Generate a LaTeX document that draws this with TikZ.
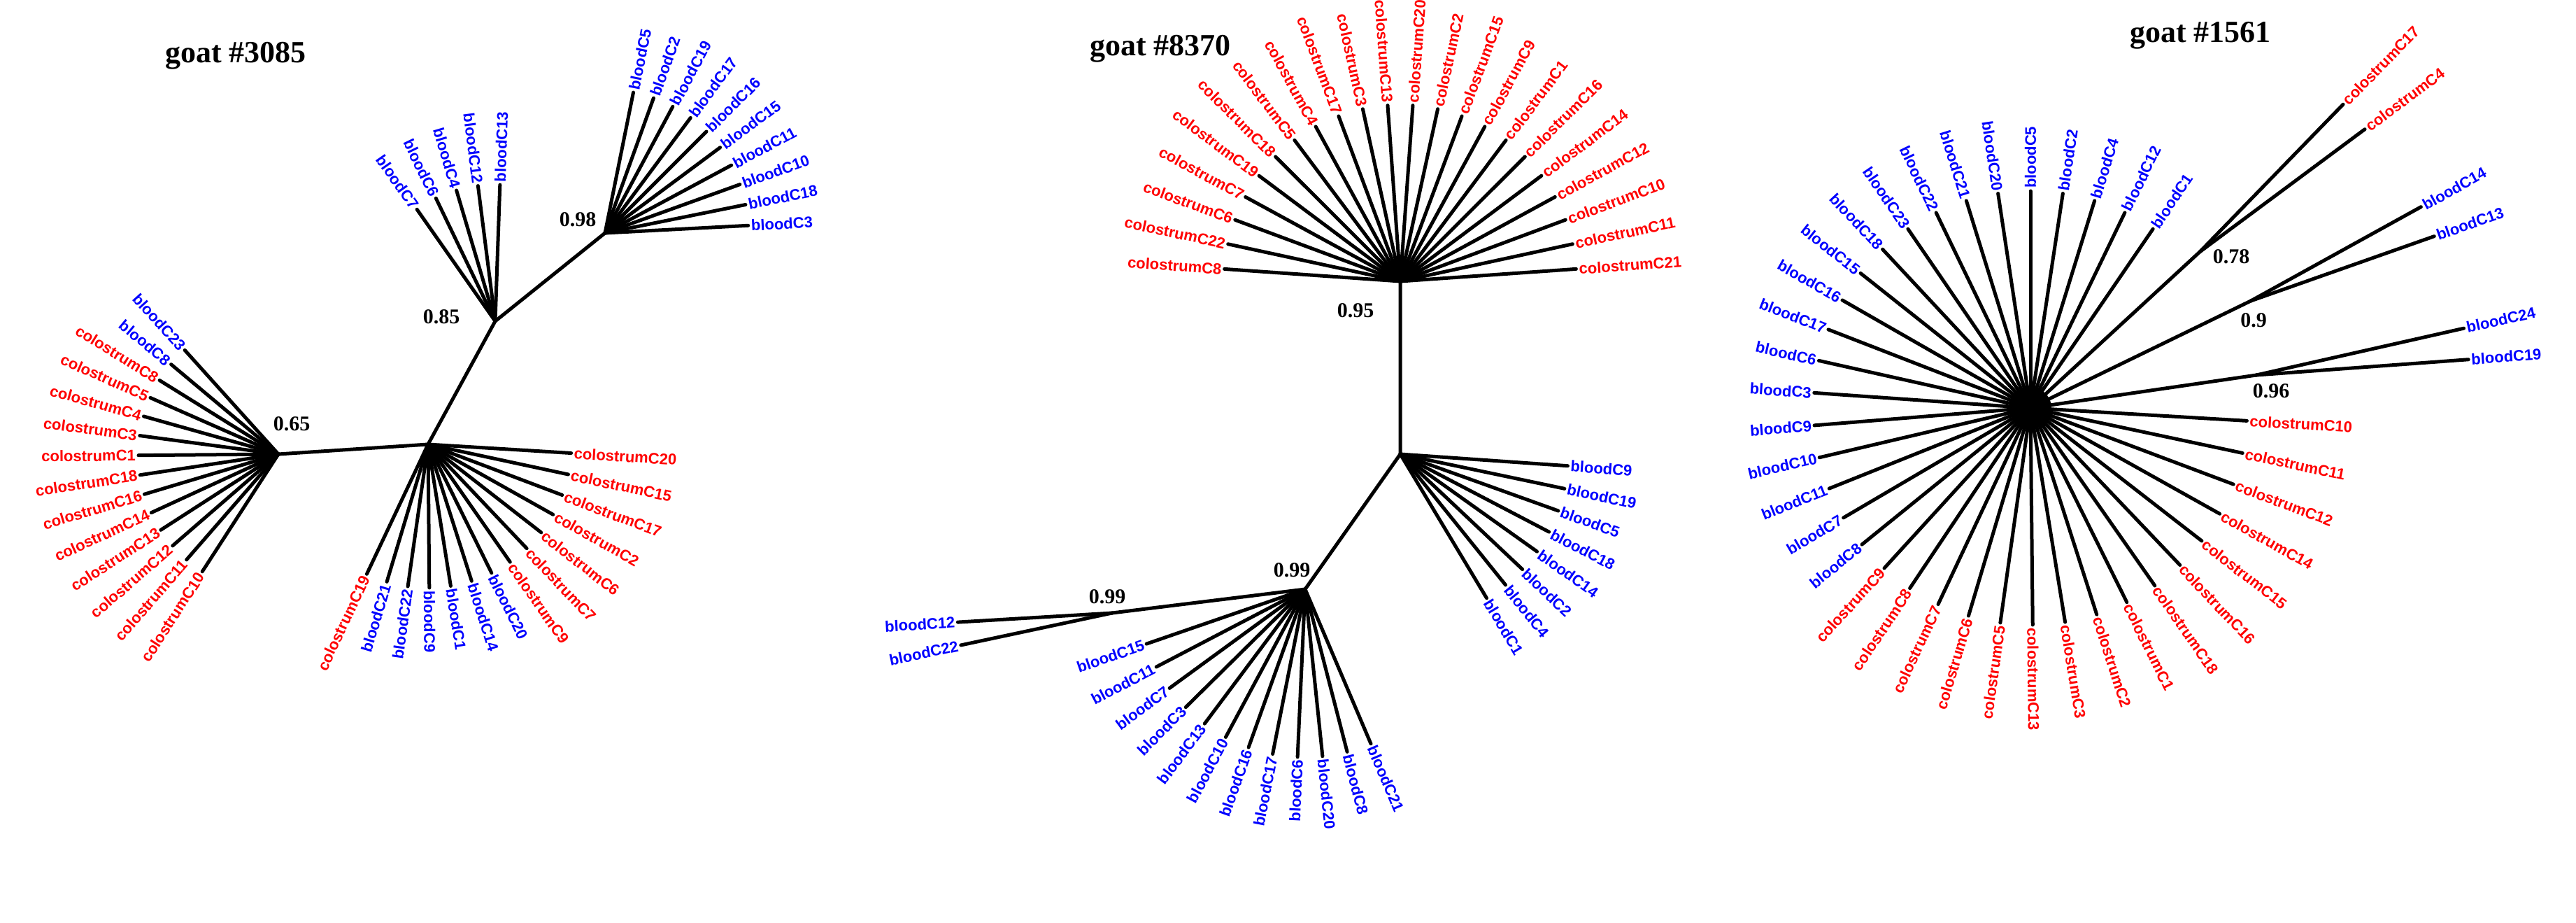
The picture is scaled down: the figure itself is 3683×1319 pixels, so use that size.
\documentclass[tikz,border=0pt]{standalone}
\usepackage{fontspec}
\setmainfont{Liberation Serif}
\newfontfamily\leaffont{Liberation Sans}
\usetikzlibrary{positioning,calc}
\tikzset{%
  branch/.style={line width=5pt, line cap=round, black},
  leaf/.style={font=\leaffont\bfseries\fontsize{22}{24}\selectfont, inner sep=4pt},
  blood/.style={text=blue},
  colos/.style={text=red},
  boot/.style={font=\bfseries\fontsize{30}{32}\selectfont},
  title/.style={font=\bfseries\fontsize{44}{46}\selectfont},
}
% fan of leaves: hub, prefix, start angle, step, length, list of label/style
\newcommand{\leaffan}[6]{%
  \foreach \lab/\col [count=\i] in {#6} {
    \pgfmathsetmacro{\ang}{#3+(\i-1)*(#4)}
    \pgfmathtruncatemacro{\rt}{cos(\ang)>=0}
    \path (#1) ++(\ang:#5) coordinate (#2-\i);
    \draw[branch] (#1) -- (#2-\i);
    \ifnum\rt=1
      \node[leaf,\col,rotate=\ang,anchor=west] (#2-\i-l) at (#2-\i) {\lab};
    \else
      \node[leaf,\col,rotate=\ang+180,anchor=east] (#2-\i-l) at (#2-\i) {\lab};
    \fi
  }}

\begin{document}
\begin{tikzpicture}[x=1pt, y=1pt]
  \useasboundingbox (0,0) rectangle (3683,-1319);

  % goat 3085
  \node[title] (title1) at (337,-80) {goat \#3085};
  \coordinate (a1) at (398,-649);
  \coordinate (b1) at (612,-635);
  \coordinate (n85) at (708,-459);
  \coordinate (n98) at (865,-333);
  \draw[branch] (a1) -- (b1) -- (n85) -- (n98);
  \leaffan{n98}{p}{3}{8.4}{205}{bloodC3/blood,bloodC18/blood,bloodC10/blood,bloodC11/blood,bloodC15/blood,bloodC16/blood,bloodC17/blood,bloodC19/blood,bloodC2/blood,bloodC5/blood}
  \leaffan{n85}{q}{88}{9.25}{195}{bloodC13/blood,bloodC12/blood,bloodC4/blood,bloodC6/blood,bloodC7/blood}
  \leaffan{a1}{r}{132}{8.08}{200}{bloodC23/blood,bloodC8/blood,colostrumC8/colos,colostrumC5/colos,colostrumC4/colos,colostrumC3/colos,colostrumC1/colos,colostrumC18/colos,colostrumC16/colos,colostrumC14/colos,colostrumC13/colos,colostrumC12/colos,colostrumC11/colos,colostrumC10/colos}
  \leaffan{b1}{s}{-3.5}{-8.6}{205}{colostrumC20/colos,colostrumC15/colos,colostrumC17/colos,colostrumC2/colos,colostrumC6/colos,colostrumC7/colos,colostrumC9/colos,bloodC20/blood,bloodC14/blood,bloodC1/blood,bloodC9/blood,bloodC22/blood,bloodC21/blood,colostrumC19/colos}
  \node[boot] (bs98) at (826,-314) {0.98};
  \node[boot] (bs85) at (631,-453) {0.85};
  \node[boot] (bs65) at (417,-606) {0.65};

  % goat 8370
  \node[title] (title2) at (1659,-70) {goat \#8370};
  \coordinate (t95) at (2002,-402);
  \coordinate (m2) at (2002,-649);
  \coordinate (l99) at (1866,-842);
  \coordinate (n99) at (1590,-876);
  \draw[branch] (t95) -- (m2) -- (l99) -- (n99);
  \leaffan{t95}{u}{176}{-8.19}{252}{colostrumC8/colos,colostrumC22/colos,colostrumC6/colos,colostrumC7/colos,colostrumC19/colos,colostrumC18/colos,colostrumC5/colos,colostrumC4/colos,colostrumC17/colos,colostrumC3/colos,colostrumC13/colos,colostrumC20/colos,colostrumC2/colos,colostrumC15/colos,colostrumC9/colos,colostrumC1/colos,colostrumC16/colos,colostrumC14/colos,colostrumC12/colos,colostrumC10/colos,colostrumC11/colos,colostrumC21/colos}
  \leaffan{m2}{v}{-4}{-7.86}{240}{bloodC9/blood,bloodC19/blood,bloodC5/blood,bloodC18/blood,bloodC14/blood,bloodC2/blood,bloodC4/blood,bloodC1/blood}
  \leaffan{l99}{w}{199}{8.55}{240}{bloodC15/blood,bloodC11/blood,bloodC7/blood,bloodC3/blood,bloodC13/blood,bloodC10/blood,bloodC16/blood,bloodC17/blood,bloodC6/blood,bloodC20/blood,bloodC8/blood,bloodC21/blood}
  \leaffan{n99}{x}{183.4}{8.6}{221}{bloodC12/blood,bloodC22/blood}
  \node[boot] (bs95) at (1938,-444) {0.95};
  \node[boot] (bs99a) at (1847,-815) {0.99};
  \node[boot] (bs99b) at (1583,-853) {0.99};

  % goat 1561
  \node[title] (title3) at (3146,-51) {goat \#1561};
  \coordinate (h3) at (2903,-583);
  \coordinate (n78) at (3145,-360);
  \coordinate (n90) at (3218,-430);
  \coordinate (n96) at (3226,-536);
  \draw[branch] (h3) -- (n78);
  \draw[branch] (h3) -- (n90);
  \draw[branch] (h3) -- (n96);
  \fill (h3) circle (30);
  \leaffan{h3}{y}{55.6}{8.6}{310}{bloodC1/blood,bloodC12/blood,bloodC4/blood,bloodC2/blood,bloodC5/blood,bloodC20/blood,bloodC21/blood,bloodC22/blood,bloodC23/blood,bloodC18/blood,bloodC15/blood,bloodC16/blood,bloodC17/blood,bloodC6/blood,bloodC3/blood,bloodC9/blood,bloodC10/blood,bloodC11/blood,bloodC7/blood,bloodC8/blood,colostrumC9/colos,colostrumC8/colos,colostrumC7/colos,colostrumC6/colos,colostrumC5/colos,colostrumC13/colos,colostrumC3/colos,colostrumC2/colos,colostrumC1/colos,colostrumC18/colos,colostrumC16/colos,colostrumC15/colos,colostrumC14/colos,colostrumC12/colos,colostrumC11/colos,colostrumC10/colos}
  \leaffan{n78}{z}{45.8}{-9.2}{294}{colostrumC17/colos,colostrumC4/colos}
  \leaffan{n90}{zz}{28.9}{-9.5}{278}{bloodC14/blood,bloodC13/blood}
  \leaffan{n96}{zy}{12.7}{-8.5}{304}{bloodC24/blood,bloodC19/blood}
  \node[boot] (bs78) at (3190,-367) {0.78};
  \node[boot] (bs90) at (3222,-458) {0.9};
  \node[boot] (bs96) at (3247,-559) {0.96};
\end{tikzpicture}
\end{document}
